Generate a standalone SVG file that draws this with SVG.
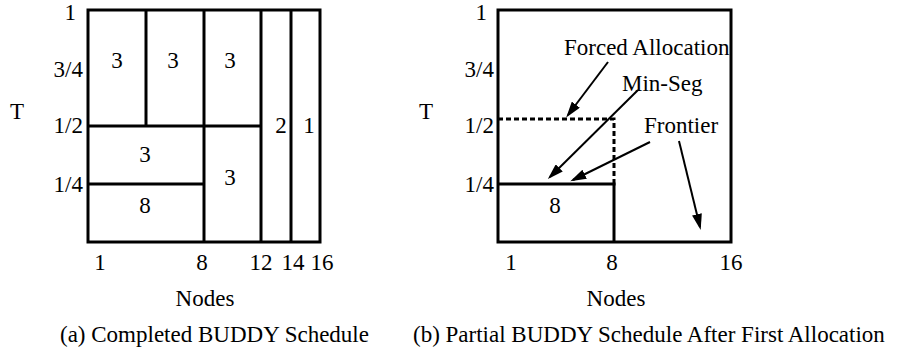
<svg xmlns="http://www.w3.org/2000/svg" width="911" height="352" viewBox="0 0 911 352">
<style>
text{font-family:"Liberation Serif","Times New Roman","DejaVu Serif",serif;font-size:23px;fill:#000}
.m{text-anchor:middle}
.e{text-anchor:end}
.b{fill:none;stroke:#000;stroke-width:3}
.d{fill:none;stroke:#000;stroke-width:3;stroke-dasharray:5 3}
.a{fill:none;stroke:#000;stroke-width:2;marker-end:url(#ah)}
</style>
<defs>
<marker id="ah" markerUnits="userSpaceOnUse" markerWidth="16" markerHeight="10" refX="13" refY="5" orient="auto" viewBox="0 0 16 10">
<path d="M0,0 L16,5 L0,10 z" fill="#000"/>
</marker>
</defs>
<rect width="911" height="352" fill="#fff"/>

<g id="panel-a" font-family="Liberation Serif, serif">
<g id="a-grid">
<rect class="b" x="88" y="10" width="232" height="232"/>
<line class="b" x1="146" y1="10" x2="146" y2="126"/>
<line class="b" x1="204" y1="10" x2="204" y2="242"/>
<line class="b" x1="261" y1="10" x2="261" y2="242"/>
<line class="b" x1="291" y1="10" x2="291" y2="242"/>
<line class="b" x1="88" y1="126" x2="261" y2="126"/>
<line class="b" x1="88" y1="184" x2="204" y2="184"/>
</g>
<g id="a-blocks">
<text class="m" x="117" y="68">3</text>
<text class="m" x="173" y="68">3</text>
<text class="m" x="230" y="68">3</text>
<text class="m" x="281" y="133">2</text>
<text class="m" x="309" y="133">1</text>
<text class="m" x="145" y="162">3</text>
<text class="m" x="230" y="185">3</text>
<text class="m" x="145" y="213">8</text>
</g>
<g id="a-axes">
<text class="e" x="76" y="20">1</text>
<text class="e" x="83" y="77">3/4</text>
<text class="e" x="83" y="133">1/2</text>
<text class="e" x="83" y="192">1/4</text>
<text class="m" x="17" y="119">T</text>
<text class="m" x="100" y="270">1</text>
<text class="m" x="202" y="270">8</text>
<text class="m" x="261" y="270">12</text>
<text class="m" x="293" y="270">14</text>
<text class="m" x="322" y="270">16</text>
<text class="m" x="205" y="306">Nodes</text>
<text x="60" y="342">(a) Completed BUDDY Schedule</text>
</g>
</g>

<g id="panel-b" font-family="Liberation Serif, serif">
<g id="b-grid">
<rect class="b" x="498" y="10" width="233" height="232"/>
<polyline class="d" points="498,119 614,119 614,184"/>
<line class="b" x1="498" y1="184" x2="615.5" y2="184"/>
<line class="b" x1="614" y1="184" x2="614" y2="242"/>
<text class="m" x="555" y="213">8</text>
</g>
<g id="b-labels">
<text x="564" y="55">Forced Allocation</text>
<text x="622" y="91">Min-Seg</text>
<text x="644" y="133">Frontier</text>
</g>
<g id="b-axes">
<text class="e" x="487" y="20">1</text>
<text class="e" x="494" y="77">3/4</text>
<text class="e" x="494" y="133">1/2</text>
<text class="e" x="494" y="192">1/4</text>
<text class="m" x="426" y="119">T</text>
<text class="m" x="511" y="270">1</text>
<text class="m" x="612" y="270">8</text>
<text class="m" x="731" y="270">16</text>
<text class="m" x="616" y="306">Nodes</text>
<text x="413" y="342">(b) Partial BUDDY Schedule After First Allocation</text>
</g>
</g>

<g id="connectors">
<line class="a" x1="608" y1="62" x2="568" y2="115"/>
<line class="a" x1="638" y1="90" x2="550" y2="177"/>
<line class="a" x1="650" y1="142" x2="573" y2="180"/>
<line class="a" x1="679" y1="141" x2="700" y2="227"/>
</g>
</svg>
